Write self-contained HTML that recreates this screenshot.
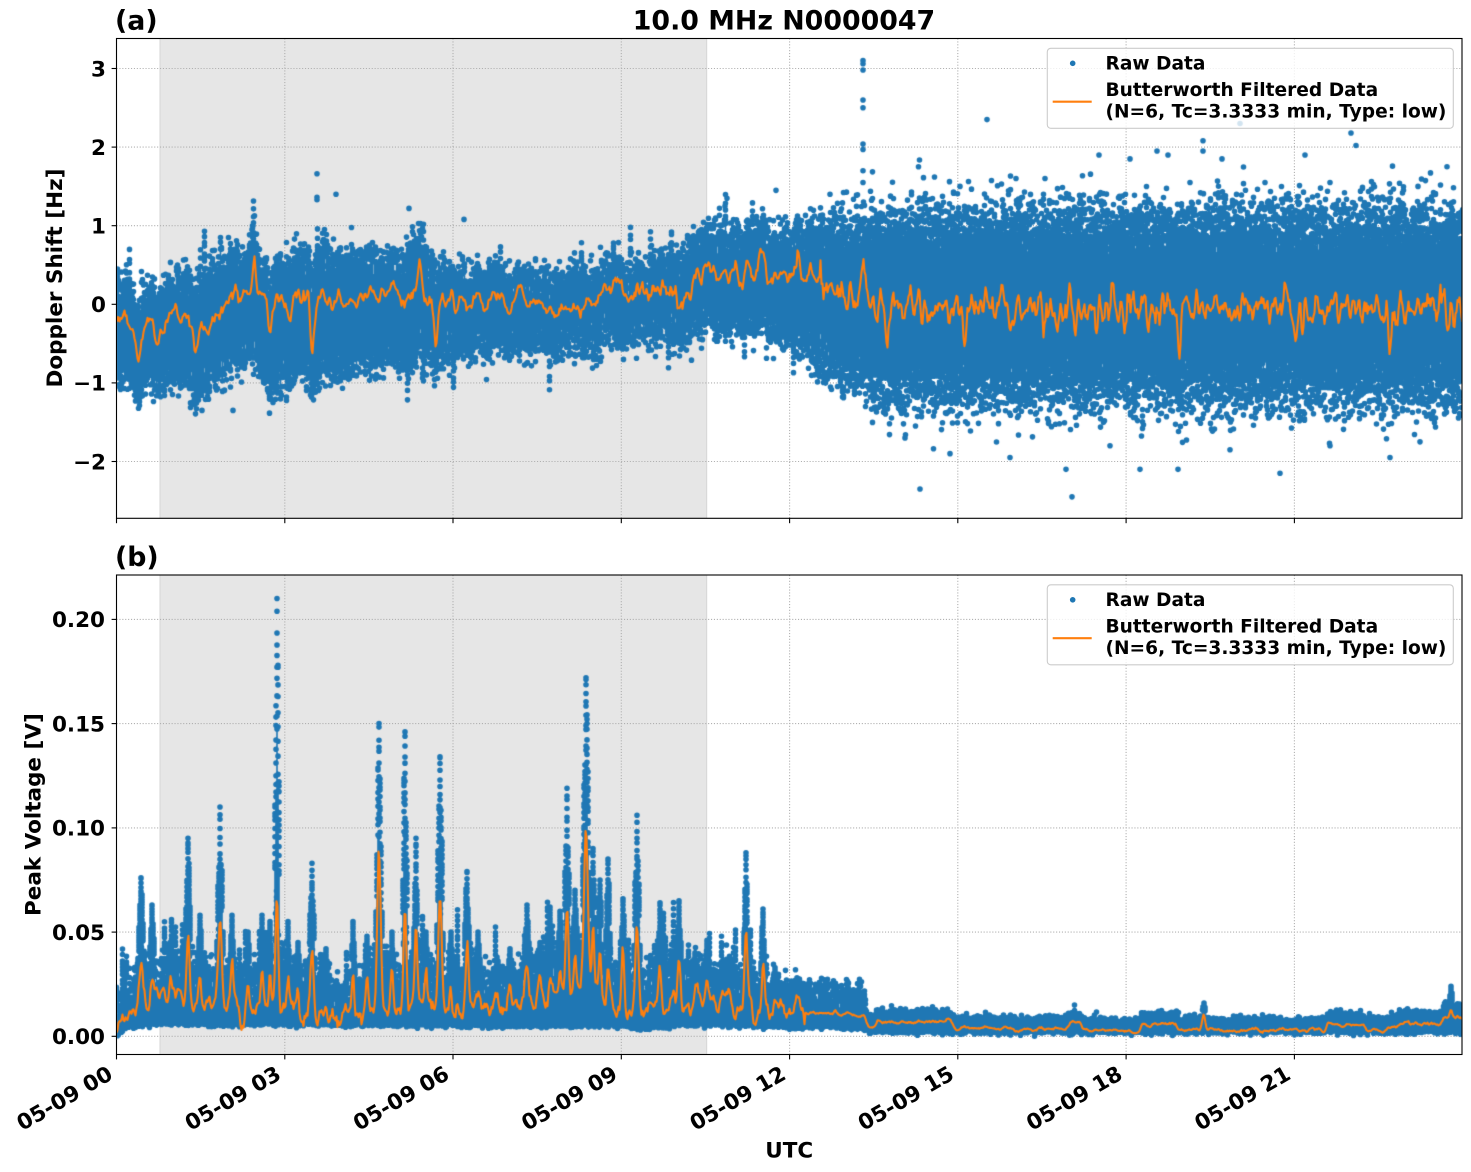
<!DOCTYPE html>
<html><head><meta charset="utf-8">
<style>
html,body{margin:0;padding:0;background:#fff;}
#wrap{position:relative;width:1471px;height:1172px;overflow:hidden;background:#fff;}
svg,canvas{position:absolute;left:0;top:0;}
text{font-family:"DejaVu Sans","Liberation Sans",sans-serif;font-weight:bold;fill:#000;}
</style></head><body><div id="wrap">
<svg id="back" width="1471" height="1172">
<rect x="160" y="38.5" width="546.7" height="479.8" fill="#e6e6e6"/>
<rect x="160" y="575" width="546.7" height="479.5" fill="#e6e6e6"/>
<g stroke="#d6d6d6" stroke-width="1">
<line x1="160" y1="38.5" x2="160" y2="518.3"/><line x1="706.7" y1="38.5" x2="706.7" y2="518.3"/>
<line x1="160" y1="575" x2="160" y2="1054.5"/><line x1="706.7" y1="575" x2="706.7" y2="1054.5"/>
</g>
<g stroke="#b0b0b0" stroke-width="1.1" stroke-dasharray="1.1 1.8" fill="none">
<line x1="284.8" y1="38.5" x2="284.8" y2="518.3"/><line x1="453" y1="38.5" x2="453" y2="518.3"/>
<line x1="621.3" y1="38.5" x2="621.3" y2="518.3"/><line x1="789.6" y1="38.5" x2="789.6" y2="518.3"/>
<line x1="957.8" y1="38.5" x2="957.8" y2="518.3"/><line x1="1126.1" y1="38.5" x2="1126.1" y2="518.3"/>
<line x1="1294.4" y1="38.5" x2="1294.4" y2="518.3"/>
<line x1="116.5" y1="68.5" x2="1462" y2="68.5"/><line x1="116.5" y1="147.1" x2="1462" y2="147.1"/>
<line x1="116.5" y1="225.7" x2="1462" y2="225.7"/><line x1="116.5" y1="304.3" x2="1462" y2="304.3"/>
<line x1="116.5" y1="382.9" x2="1462" y2="382.9"/><line x1="116.5" y1="461.5" x2="1462" y2="461.5"/>
<line x1="284.8" y1="575" x2="284.8" y2="1054.5"/><line x1="453" y1="575" x2="453" y2="1054.5"/>
<line x1="621.3" y1="575" x2="621.3" y2="1054.5"/><line x1="789.6" y1="575" x2="789.6" y2="1054.5"/>
<line x1="957.8" y1="575" x2="957.8" y2="1054.5"/><line x1="1126.1" y1="575" x2="1126.1" y2="1054.5"/>
<line x1="1294.4" y1="575" x2="1294.4" y2="1054.5"/>
<line x1="116.5" y1="619.4" x2="1462" y2="619.4"/><line x1="116.5" y1="723.6" x2="1462" y2="723.6"/>
<line x1="116.5" y1="827.9" x2="1462" y2="827.9"/><line x1="116.5" y1="932.1" x2="1462" y2="932.1"/>
<line x1="116.5" y1="1036.3" x2="1462" y2="1036.3"/>
</g>
</svg>
<canvas id="c" width="1471" height="1172"></canvas>
<svg id="front" width="1471" height="1172">
<g fill="none" stroke="#000" stroke-width="1.1">
<rect x="116.5" y="38.5" width="1345.5" height="479.8"/>
<rect x="116.5" y="575" width="1345.5" height="479.5"/>
</g>
<g stroke="#000" stroke-width="1.1">
<line x1="111.6" y1="68.5" x2="116.5" y2="68.5"/><line x1="111.6" y1="147.1" x2="116.5" y2="147.1"/>
<line x1="111.6" y1="225.7" x2="116.5" y2="225.7"/><line x1="111.6" y1="304.3" x2="116.5" y2="304.3"/>
<line x1="111.6" y1="382.9" x2="116.5" y2="382.9"/><line x1="111.6" y1="461.5" x2="116.5" y2="461.5"/>
<line x1="111.6" y1="619.4" x2="116.5" y2="619.4"/><line x1="111.6" y1="723.6" x2="116.5" y2="723.6"/>
<line x1="111.6" y1="827.9" x2="116.5" y2="827.9"/><line x1="111.6" y1="932.1" x2="116.5" y2="932.1"/>
<line x1="111.6" y1="1036.3" x2="116.5" y2="1036.3"/>
<line x1="116.5" y1="518.3" x2="116.5" y2="523.2"/><line x1="284.8" y1="518.3" x2="284.8" y2="523.2"/>
<line x1="453" y1="518.3" x2="453" y2="523.2"/><line x1="621.3" y1="518.3" x2="621.3" y2="523.2"/>
<line x1="789.6" y1="518.3" x2="789.6" y2="523.2"/><line x1="957.8" y1="518.3" x2="957.8" y2="523.2"/>
<line x1="1126.1" y1="518.3" x2="1126.1" y2="523.2"/><line x1="1294.4" y1="518.3" x2="1294.4" y2="523.2"/>
<line x1="116.5" y1="1054.5" x2="116.5" y2="1059.4"/><line x1="284.8" y1="1054.5" x2="284.8" y2="1059.4"/>
<line x1="453" y1="1054.5" x2="453" y2="1059.4"/><line x1="621.3" y1="1054.5" x2="621.3" y2="1059.4"/>
<line x1="789.6" y1="1054.5" x2="789.6" y2="1059.4"/><line x1="957.8" y1="1054.5" x2="957.8" y2="1059.4"/>
<line x1="1126.1" y1="1054.5" x2="1126.1" y2="1059.4"/><line x1="1294.4" y1="1054.5" x2="1294.4" y2="1059.4"/>
</g>
<g font-size="21.5" text-anchor="end">
<text x="106" y="76.3">3</text><text x="106" y="154.9">2</text><text x="106" y="233.5">1</text>
<text x="106" y="312.1">0</text><text x="106" y="390.7">−1</text><text x="106" y="469.3">−2</text>
<text x="105" y="627.2">0.20</text><text x="105" y="731.4">0.15</text><text x="105" y="835.7">0.10</text>
<text x="105" y="939.9">0.05</text><text x="105" y="1044.1">0.00</text>
</g>
<g font-size="21.5" text-anchor="end">
<text transform="translate(114.2,1078.1) rotate(-30)">05-09 00</text>
<text transform="translate(282.5,1078.1) rotate(-30)">05-09 03</text>
<text transform="translate(450.7,1078.1) rotate(-30)">05-09 06</text>
<text transform="translate(619,1078.1) rotate(-30)">05-09 09</text>
<text transform="translate(787.3,1078.1) rotate(-30)">05-09 12</text>
<text transform="translate(955.5,1078.1) rotate(-30)">05-09 15</text>
<text transform="translate(1123.8,1078.1) rotate(-30)">05-09 18</text>
<text transform="translate(1292.1,1078.1) rotate(-30)">05-09 21</text>
</g>
<text x="789.2" y="1157.5" font-size="21.5" text-anchor="middle">UTC</text>
<text transform="translate(62,278) rotate(-90)" font-size="21.5" text-anchor="middle">Doppler Shift [Hz]</text>
<text transform="translate(40.5,814.6) rotate(-90)" font-size="21.5" text-anchor="middle">Peak Voltage [V]</text>
<text x="784" y="29.5" font-size="26.8" text-anchor="middle">10.0 MHz N0000047</text>
<text x="115" y="29.5" font-size="26.8">(a)</text>
<text x="115" y="566" font-size="26.8">(b)</text>
<g>
<rect x="1047.3" y="48.3" width="406" height="80" rx="3.5" fill="#fff" fill-opacity="0.8" stroke="#cccccc" stroke-width="1.1"/>
<circle cx="1072.7" cy="63.3" r="2.8" fill="#1f77b4"/>
<line x1="1052.7" y1="101.7" x2="1091.7" y2="101.7" stroke="#ff7f0e" stroke-width="2.1"/>
<text x="1105.5" y="69.5" font-size="18.6">Raw Data</text>
<text x="1105.5" y="96.2" font-size="18.6">Butterworth Filtered Data</text>
<text x="1105.5" y="117.5" font-size="18.6">(N=6, Tc=3.3333 min, Type: low)</text>
</g>
<g>
<rect x="1047.3" y="584.8" width="406" height="80" rx="3.5" fill="#fff" fill-opacity="0.8" stroke="#cccccc" stroke-width="1.1"/>
<circle cx="1072.7" cy="599.8" r="2.8" fill="#1f77b4"/>
<line x1="1052.7" y1="638.2" x2="1091.7" y2="638.2" stroke="#ff7f0e" stroke-width="2.1"/>
<text x="1105.5" y="606" font-size="18.6">Raw Data</text>
<text x="1105.5" y="632.7" font-size="18.6">Butterworth Filtered Data</text>
<text x="1105.5" y="654" font-size="18.6">(N=6, Tc=3.3333 min, Type: low)</text>
</g>
</svg>
</div>
<script>
(function(){
const c=document.getElementById('c'),ctx=c.getContext('2d');
const BLUE='#1f77b4',ORANGE='#ff7f0e';
let s=246813579;
function R(){s^=s<<13;s^=s>>>17;s^=s<<5;return (s>>>0)/4294967296;}
function G(){let u=R();if(u<1e-12)u=1e-12;return Math.sqrt(-2*Math.log(u))*Math.cos(6.2831853*R());}
function I(p,x){if(x<=p[0][0])return p[0][1];for(let i=1;i<p.length;i++){if(x<=p[i][0]){const a=p[i-1],b=p[i];return a[1]+(b[1]-a[1])*(x-a[0])/(b[0]-a[0]);}}return p[p.length-1][1];}
function sm(n,k){const w=[];for(let i=0;i<n+2*k+1;i++)w.push(G());const o=[];for(let i=0;i<n;i++){let t=0;for(let j=0;j<=2*k;j++)t+=w[i+j];o.push(t/Math.sqrt(2*k+1));}return o;}
const RD=2.8;
function dot(x,y){ctx.moveTo(x+RD,y);ctx.arc(x,y,RD,0,6.2831853,false);}
function box(x,y1,y2){if(y2<y1){const t=y1;y1=y2;y2=t;}ctx.rect(x-0.8,y1,1.6,y2-y1);}
const XA=116.5,XB=1462,N=1346;

/* ---------------- TOP PANEL ---------------- */
ctx.save();ctx.beginPath();ctx.rect(XA,38.5,XB-XA,479.8);ctx.clip();
const yT=v=>304.3-78.6*v;
const oK=[[116,-0.12],[130,-0.22],[150,-0.25],[165,-0.05],[185,-0.25],[210,-0.3],[228,-0.1],[245,0.1],[258,0.05],[280,0.05],[300,0.0],[320,0.05],[350,0.05],[380,0.1],[400,0.12],[430,0.0],[460,0.08],[500,0.02],[540,0.0],[580,0.0],[610,0.1],[640,0.12],[670,0.05],[690,0.2],[705,0.38],[740,0.42],[770,0.35],[790,0.3],[815,0.3],[840,0.15],[880,0.0],[950,-0.05],[1462,-0.05]];
const bT=[[138,-0.4,2.5],[157,-0.35,2],[176,0.15,2],[196,-0.3,2],[236,0.2,2],[254,0.45,1.8],[270,-0.5,2],[290,-0.15,2],[312,-0.75,1.8],[330,0.2,2],[356,-0.2,2],[382,0.15,2],[420,0.4,2],[436,-0.5,1.8],[452,0.2,2],[484,-0.15,2],[520,0.1,3],[560,-0.05,3],[622,0.12,2],[640,-0.08,2],[663,0.25,2],[678,-0.15,2],[798,0.4,1.5],[810,0.1,2],[863,0.3,1.5],[888,-0.3,1.5],[950,-0.35,1.5],[1010,-0.3,1.5],[1075,-0.4,1.5],[1125,-0.3,1.5],[1180,-0.35,1.5],[1296,-0.3,1.5],[1390,-0.35,1.5]];
const U=[[116,0.25],[125,0.2],[140,0.05],[160,0.15],[200,0.25],[224,0.35],[240,0.45],[252,0.6],[262,0.3],[280,0.45],[300,0.5],[330,0.55],[360,0.5],[400,0.45],[420,0.55],[454,0.3],[500,0.25],[560,0.2],[600,0.3],[650,0.35],[680,0.5],[700,0.7],[720,0.8],[760,0.75],[790,0.75],[820,0.8],[860,0.8],[1462,0.8]];
const L=[[116,-0.75],[140,-0.9],[160,-0.8],[200,-0.95],[224,-0.85],[250,-0.55],[262,-0.8],[280,-0.9],[300,-0.8],[330,-0.75],[360,-0.65],[400,-0.6],[420,-0.65],[454,-0.5],[500,-0.45],[560,-0.4],[600,-0.35],[650,-0.3],[680,-0.35],[700,-0.2],[720,-0.2],[760,-0.2],[790,-0.35],[810,-0.5],[840,-0.72],[880,-0.85],[1462,-0.85]];
const neK=[[116,2],[790,2],[880,4],[1462,4]];
const seK=[[116,0.12],[790,0.14],[880,0.28],[1462,0.28]];
const n1=sm(N+20,3),n2=sm(N+20,1);
const oT=[];
for(let i=0;i<=N;i++){const x=XA+i;let v=I(oK,x);
 v+= x<820 ? 0.09*n1[i] : 0.12*n2[i];
 for(const b of bT){const d=(x-b[0])/b[2];if(Math.abs(d)<4)v+=b[1]*Math.exp(-d*d/2);}
 oT.push(v);}
ctx.fillStyle=BLUE;ctx.beginPath();
for(let i=0;i<=N;i++){const x=XA+i;const base=I(oK,x);const sh=Math.max(-0.3,Math.min(0.3,(oT[i]-base)*0.5));
 const right=x>830;
 let u=I(U,x)+(right?0:sh),l=I(L,x)+(right?0:sh);
 const je=right?0.07:0.08;u+=je*G();l+=je*G();
 if(l>u-0.05){const m=(u+l)/2;u=m+0.03;l=m-0.03;}
 box(x,yT(u),yT(l));dot(x,yT(u));dot(x,yT(l));
 const ne=Math.round(I(neK,x)+R()*0.8-0.4),se=I(seK,x);
 for(let k=0;k<ne;k++){dot(x,yT(u+Math.abs(G())*se));dot(x,yT(l-Math.abs(G())*se));}
 if(x<840&&R()<0.06){const up=R()<0.55;let v=up?u:l;const m=2+Math.floor(R()*6);for(let k=0;k<m;k++){v+=(up?1:-1)*(0.03+R()*0.1);dot(x,yT(v));}}
}
const outT=[[863,3.1],[863,3.06],[863,2.98],[863,2.6],[863,2.5],[863,2.04],[863,1.97],[863,1.7],[863,1.55],[987,2.35],[1203,1.95],[1203,2.08],[1240,2.3],[1351,2.18],[1356,2.02],[1072,-2.45],[920,-2.35],[1280,-2.15],[1390,-1.95],[1178,-2.1],[1140,-2.1],[1066,-2.1],[273,-1.25],[233,-1.35],[202,-1.35],[317,1.66],[317,1.36],[317,1.33],[336,1.4],[409,1.22],[464,1.08],[727,1.35],[725,1.25],[776,1.45],[830,1.4],[1016,1.6],[1099,1.9],[1130,1.85],[1168,1.9],[1190,1.55],[1265,1.55],[1305,1.9],[1418,1.5],[1447,1.75],[1330,1.55],[1157,1.95],[1222,1.85],[950,-1.9],[1010,-1.95],[1110,-1.8],[1230,-1.85],[1330,-1.8],[1420,-1.75],[905,-1.7],[1045,1.6],[960,1.5],[253,1.0],[252,0.95],[254,0.9]];
for(const p of outT)dot(p[0],yT(p[1]));
ctx.fill();
ctx.strokeStyle=ORANGE;ctx.lineWidth=2.1;ctx.lineJoin='round';ctx.beginPath();
for(let i=0;i<=N;i++){const x=XA+i,y=yT(oT[i]);if(i)ctx.lineTo(x,y);else ctx.moveTo(x,y);}
ctx.stroke();ctx.restore();

/* ---------------- BOTTOM PANEL ---------------- */
ctx.save();ctx.beginPath();ctx.rect(XA,575,XB-XA,479.5);ctx.clip();
const yB=v=>1036.3-2085*v;
const oBK=[[116,0.006],[122,0.008],[135,0.014],[150,0.018],[170,0.017],[200,0.016],[240,0.014],[270,0.013],[300,0.011],[340,0.01],[370,0.012],[400,0.014],[440,0.015],[480,0.013],[510,0.014],[540,0.018],[560,0.02],[580,0.022],[600,0.02],[620,0.015],[640,0.012],[670,0.014],[700,0.015],[720,0.014],[740,0.012],[770,0.011],[790,0.012],[800,0.013],[820,0.0105],[864,0.0105],[868,0.0045],[875,0.0045],[878,0.007],[952,0.007],[956,0.004],[993,0.004],[996,0.0035],[1064,0.0035],[1067,0.006],[1080,0.006],[1083,0.0026],[1139,0.0026],[1142,0.006],[1176,0.006],[1179,0.003],[1200,0.003],[1203,0.008],[1207,0.003],[1325,0.003],[1328,0.0058],[1363,0.0058],[1366,0.0035],[1396,0.0035],[1399,0.006],[1440,0.006],[1444,0.009],[1462,0.009]];
const lowK=[[116,0.001],[125,0.004],[140,0.006],[160,0.0065],[300,0.006],[500,0.005],[620,0.0055],[640,0.004],[700,0.006],[760,0.005],[800,0.0045],[866,0.0045],[868,0.0022],[1462,0.0022]];
const offK=[[116,0.007],[140,0.011],[700,0.011],[780,0.009],[865,0.008],[867,0.0038],[1462,0.0038]];
const nzK=[[116,0.004],[780,0.003],[866,0.0015],[867,0.0008],[1462,0.0008]];
const SP=[[141,0.076,6,0.03],[152,0.063,5,0.028],[170,0.045,5,0.026],[188,0.095,5,0.048],[200,0.058,4,0.03],[220,0.11,6,0.053],[232,0.058,4,0.032],[248,0.05,4,0.025],[262,0.058,4,0.03],[270,0.055,3,0.03],[277,0.21,5,0.068],[288,0.055,3,0.028],[298,0.045,4,0.022],[312,0.083,6,0.045],[326,0.042,4,0.022],[353,0.055,4,0.03],[367,0.048,4,0.025],[379,0.15,6,0.09],[392,0.05,4,0.03],[405,0.146,5,0.062],[416,0.095,4,0.05],[426,0.05,4,0.03],[440,0.134,6,0.069],[451,0.05,4,0.025],[467,0.079,5,0.045],[478,0.05,6,0.022],[497,0.038,6,0.022],[510,0.042,5,0.022],[527,0.063,6,0.035],[540,0.045,5,0.025],[550,0.062,5,0.03],[560,0.06,5,0.03],[567,0.119,5,0.064],[575,0.07,5,0.04],[586,0.172,7,0.095],[593,0.09,4,0.05],[600,0.075,4,0.04],[608,0.085,4,0.035],[623,0.066,4,0.04],[637,0.106,6,0.049],[660,0.064,5,0.035],[679,0.065,5,0.038],[695,0.04,6,0.022],[707,0.046,6,0.025],[727,0.037,8,0.024],[746,0.088,5,0.051],[763,0.061,4,0.032],[775,0.033,6,0.02],[797,0.028,6,0.016],[835,0.025,5,0.013],[848,0.024,5,0.012],[1204,0.016,3,0.01],[1451,0.024,3,0.013]];
const nb=sm(N+20,2);
const oB=[];
for(let i=0;i<=N;i++){const x=XA+i;let v=I(oBK,x);
 v+= x<805 ? 0.0032*nb[i] : 0.0005*nb[i];
 for(const sp of SP){const sg=Math.max(1.2,sp[2]/3.5);const d=(x-sp[0])/sg;if(Math.abs(d)<4)v+=(sp[3]-I(oBK,sp[0]))*Math.exp(-d*d/2);}
 oB.push(Math.max(v,0.0015));}
ctx.fillStyle=BLUE;ctx.beginPath();
for(let i=0;i<=N;i++){const x=XA+i;const ob=I(oBK,x);
 const nz=I(nzK,x);
 let top=ob+I(offK,x)+nz*G()+Math.max(0,oB[i]-ob)*0.5;
 let low=I(lowK,x)+0.0007*G();
 if(top<low+0.003)top=low+0.003;
 box(x,yB(top),yB(low));dot(x,yB(top));dot(x,yB(low));
 if(x<866){
  const fz=x<770?0.005:0.003;
  for(let k=0;k<2;k++)dot(x,yB(top+Math.abs(G())*fz));
  if(x<770&&R()<0.18){const h=top+0.004+R()*R()*0.03;let v=top;while(v<h){v+=0.0012+R()*0.002;dot(x,yB(v));}}
 } else {
  dot(x,yB(top+Math.abs(G())*0.0012));
 }
}
for(const sp of SP){const xc=sp[0],P=sp[1],w=sp[2],half=w/2;
 for(let dx=-Math.floor(half);dx<=Math.floor(half);dx++){const x=xc+dx;
  const f=Math.max(0.15,1-Math.pow(Math.abs(dx)/(half+0.6),2));
  const t0=I(oBK,x)+I(offK,x);
  const pk=t0+(P-t0)*f*(dx===0?1:(0.7+0.25*R()));
  const dense=t0+(pk-t0)*(0.55+0.15*R());
  box(x,yB(dense),yB(t0));dot(x,yB(dense));
  let v=dense;while(v<pk){v+=(pk-t0)*(0.012+R()*0.045);if(v>pk)v=pk;dot(x,yB(v));}
 }}
ctx.fill();
ctx.strokeStyle=ORANGE;ctx.lineWidth=2.1;ctx.lineJoin='round';ctx.beginPath();
for(let i=0;i<=N;i++){const x=XA+i,y=yB(oB[i]);if(i)ctx.lineTo(x,y);else ctx.moveTo(x,y);}
ctx.stroke();ctx.restore();
})();
</script>
</body></html>
